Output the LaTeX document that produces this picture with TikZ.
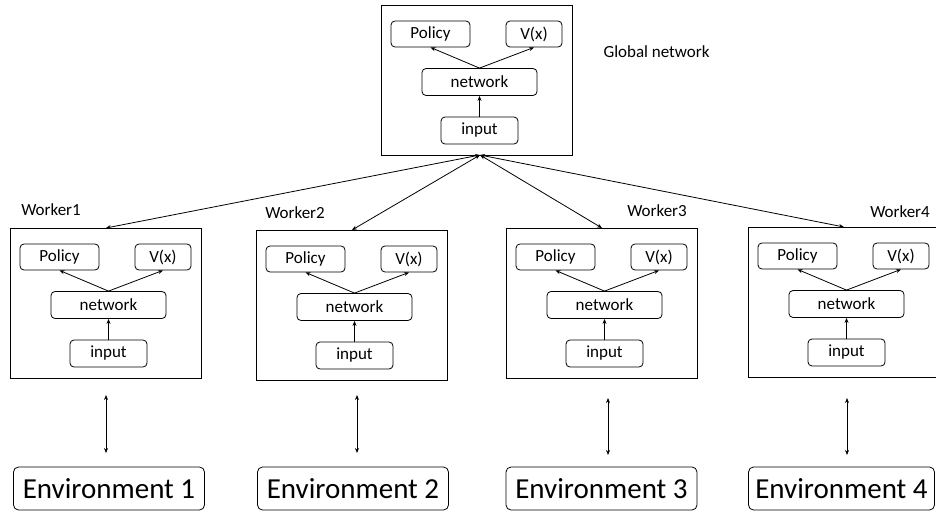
\documentclass[tikz,border=0pt]{standalone}
\usepackage{fontspec}
\setmainfont{Carlito}
\usetikzlibrary{arrows.meta,calc}

\begin{document}
\begin{tikzpicture}[x=1pt,y=-1pt,
  tip/.tip={Stealth[length=5pt,width=4pt]},
  frame/.style={draw,line width=0.9pt,minimum width=191pt,minimum height=150pt,
    anchor=north west,inner sep=0pt},
  unit/.style={draw,rounded corners=4pt,line width=0.8pt,inner sep=0pt,
    font=\fontsize{17}{17}\selectfont},
  envbox/.style={draw,rounded corners=5pt,line width=0.8pt,minimum height=43pt,
    minimum width=191pt,inner sep=0pt,font=\fontsize{29}{29}\selectfont},
  lbl/.style={font=\fontsize{17}{17}\selectfont},
  link/.style={line width=0.8pt,-tip},
  both/.style={line width=0.8pt,tip-tip},
  pics/agent/.style={code={
    \node[frame] (-box) at (0,0) {};
    \node[unit,minimum width=79pt,minimum height=26pt] (-pol) at (49.5,29) {Policy};
    \node[unit,minimum width=56pt,minimum height=26pt] (-val) at (153,29) {V(x)};
    \node[unit,minimum width=115pt,minimum height=27pt] (-net) at (98.5,77) {network};
    \node[unit,minimum width=77pt,minimum height=27pt] (-inp) at (98.5,125.5) {input};
    \draw[link] (-net.north) -- (-pol.south);
    \draw[link] (-net.north) -- (-val.south);
    \draw[link] (-inp.north) -- (-net.south);
  }}
]
\useasboundingbox (0,0) rectangle (936,513);

% global network and the four workers
\pic (g) at (381,5) {agent};
\pic (w1) at (10,228) {agent};
\pic (w2) at (256,230) {agent};
\pic (w3) at (506,228) {agent};
\pic (w4) at (748,227) {agent};

% labels
\node[lbl,anchor=west] (glabel) at (600,52) {Global network};
\node[lbl] (l1) at (51,210) {Worker1};
\node[lbl] (l2) at (295,213) {Worker2};
\node[lbl] (l3) at (657,211) {Worker3};
\node[lbl] (l4) at (900,212) {Worker4};

% parameter exchange between global network and workers
\coordinate (hub) at (480,155);
\draw[both] (hub) -- (w1-box.north);
\draw[both] (hub) -- (w2-box.north);
\draw[both] (hub) -- (w3-box.north);
\draw[both] (hub) -- (w4-box.north);

% environments
\node[envbox] (e1) at (109,488.5) {Environment 1};
\node[envbox] (e2) at (353,488.5) {Environment 2};
\node[envbox] (e3) at (601.5,488.5) {Environment 3};
\node[envbox,minimum width=186pt] (e4) at (841.5,488.5) {Environment 4};

% worker <-> environment interaction
\coordinate (a1) at (106,395); \coordinate (b1) at (106,453);
\coordinate (a2) at (357,395); \coordinate (b2) at (357,453);
\coordinate (a3) at (608,398); \coordinate (b3) at (608,455);
\coordinate (a4) at (847,398); \coordinate (b4) at (847,455);
\draw[both] (a1) -- (b1);
\draw[both] (a2) -- (b2);
\draw[both] (a3) -- (b3);
\draw[both] (a4) -- (b4);
\end{tikzpicture}
\end{document}
